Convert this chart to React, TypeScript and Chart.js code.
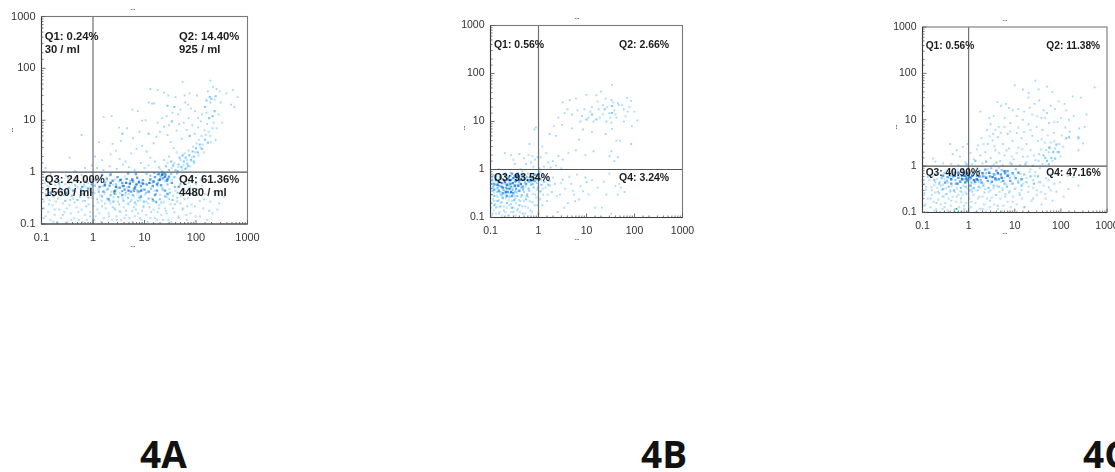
import React, { useEffect, useRef } from "react";
import { Chart, registerables } from "chart.js";

Chart.register(...registerables);

type P = [number, number];

const decadeLabels = [0.1, 1, 10, 100, 1000];

/* ---------- Panel 4A ---------- */
const aLabels = [
  { text: "Q1: 0.24%", x: 0.115, y: 400 },
  { text: "30 / ml", x: 0.115, y: 224 },
  { text: "Q2: 14.40%", x: 46.8, y: 400 },
  { text: "925 / ml", x: 46.8, y: 224 },
  { text: "Q3: 24.00%", x: 0.115, y: 0.705 },
  { text: "1560 / ml", x: 0.115, y: 0.395 },
  { text: "Q4: 61.36%", x: 46.8, y: 0.705 },
  { text: "4480 / ml", x: 46.8, y: 0.395 },
];
const aHaze: P[] = [
  [0.105,0.48],[0.11,0.2],[0.115,0.62],[0.12,0.14],[0.125,0.33],[0.13,0.74],[0.135,0.17],[0.14,0.52],[0.145,0.29],[0.15,0.12],[0.155,0.38],[0.16,0.66],[0.165,0.23],[0.17,0.47],[0.18,0.15],[0.185,0.56],[0.19,0.27],[0.2,0.41],[0.205,0.11],[0.21,0.72],[0.22,0.19],[0.225,0.53],[0.235,0.35],[0.24,0.13],[0.25,0.64],[0.26,0.25],[0.27,0.45],[0.28,0.17],[0.29,0.58],
  [0.31,0.37],[0.32,0.11],[0.33,0.77],[0.35,0.23],[0.36,0.48],[0.37,0.16],[0.39,0.6],[0.41,0.31],[0.43,0.13],[0.45,0.42],[0.46,0.69],[0.48,0.21],[0.5,0.52],[0.53,0.12],[0.55,0.36],[0.57,0.61],[0.6,0.19],[0.62,0.44],[0.64,0.28],[0.66,0.82],[0.69,0.15],[0.71,0.53],[0.75,0.34],[0.77,0.12],[0.79,0.62],[0.83,0.24],[0.86,0.45],[0.89,0.17],[0.93,0.74],[0.96,0.32],[0.99,0.54],
  [1.03,0.22],[1.08,0.4],[1.12,0.14],[1.18,0.63],[1.24,0.26],[1.28,0.47],[1.33,0.16],[1.39,0.36],[1.43,0.78],[1.48,0.28],[1.55,0.54],[1.62,0.13],[1.68,0.39],[1.76,0.2],[1.82,0.66],[1.88,0.31],[1.95,0.48],[2.02,0.16],[2.12,0.86],[2.18,0.25],[2.27,0.42],[2.35,0.12],[2.44,0.57],[2.52,0.33],[2.6,0.2],[2.68,0.72],[2.76,0.38],[2.85,0.14],[2.93,0.49],
  [3.05,0.27],[3.16,0.66],[3.28,0.18],[3.38,0.4],[3.52,0.12],[3.65,0.55],[3.8,0.31],[3.95,0.21],[4.1,0.83],[4.25,0.36],[4.4,0.15],[4.6,0.51],[4.75,0.25],[4.95,0.38],[5.1,0.13],[5.35,0.61],[5.55,0.29],[5.75,0.18],[5.95,0.46],[6.2,0.35],[6.45,0.14],[6.7,0.57],[6.95,0.24],[7.3,0.39],[7.6,0.16],[7.9,0.69],[8.3,0.29],[8.7,0.12],[9.1,0.47],[9.5,0.21],
  [10.2,0.37],[10.7,0.15],[11.3,0.56],[11.8,0.25],[12.4,0.41],[13,0.13],[13.7,0.31],[14.3,0.62],[15,0.19],[15.8,0.44],[16.6,0.27],[17.4,0.12],[18.3,0.54],[19.2,0.23],[20.2,0.37],[21.3,0.15],[22.4,0.5],[23.6,0.26],[24.8,0.66],[26,0.18],[27.5,0.33],[29,0.12],[30.5,0.47],[32,0.24],[34,0.71],[36,0.35],[38,0.17],[40,0.44],[43,0.27],[46,0.13],[49,0.55],[52,0.34],[56,0.2],[60,0.43],[65,0.15],[70,0.32],[76,0.52],[82,0.24],[90,0.38],[98,0.14],[108,0.47],[118,0.28],[125,0.71],[138,0.2],[150,0.38],[165,0.12],[190,0.27],[210,0.16],[260,0.19],
  [45,1.25],[50,1.7],[54,1.1],[57,1.35],[60,2.3],[65,1.2],[67,1.7],[72,2.6],[77,1.3],[83,1.9],[88,3.1],[93,1.5],[97,2.4],[103,3.6],[112,2.1],[115,4.2],[122,3],[128,5],[135,3.4],[142,2.4],[155,5.2],[175,6],[195,3.8],[220,9],[255,7],[275,13],[320,9],[38,1.5],[42,2.4],[34,1.2],[28,1.5],[20,1.15],
];
const aPale: P[] = [
  [1.6,11.5],[2.3,12],[3.2,7.2],[4.6,7],[5.8,16],[7.4,15],[9,9.8],[10.5,10],[12,22],[14,21],[15.5,21],[13,40],[18,38],[24,34],[29,30],[40,28],[55,55],[60,30],[75,33],[105,30],[190,58],[170,36],[215,44],[250,40],[290,36],[190,22],[230,25],[300,22],[390,33],[520,38],[640,28],[480,20],[560,18],
  [160,14],[130,13],[110,11],[95,15],[80,17],[70,20],[62,22],[50,16],[45,13],[35,14],[27,12],[22,11],[30,8],[18,9],[8,6],[6,4.5],[3.5,4],[2.4,3.5],[1.3,3.8],[1.1,2],[1.5,1.7],[2.2,2.2],[2.8,2.6],[3.3,1.8],[4.3,1.6],[5.5,2.3],[7,2.8],[9,3.2],[11,2.5],[13,1.9],[15,3.6],[17,4.8],[20,6],[24,7.5],[28,5.2],[32,3.8],[37,2.9],[42,6.3],[47,8.4],[53,4.4],[58,9],[66,6.5],[72,11],[85,8],[95,5.5],[110,7.2],[125,9.5],[145,6.4],[165,8.5],[190,5],[210,7],[240,4.2],
  [0.6,5.2],[0.35,1.9],[0.12,1.2],[0.45,1.05],[0.7,1.2],[0.95,1.35],[1.2,1.2],[1.6,1.1],[2.1,1.3],[2.9,1.15],[3.8,1.4],[5,1.25],[6.4,1.1],[8.5,1.5],[10,1.2],[12,1.35],[16,1.6],[19,1.25],[24,1.7],[30,2],
  [0.11,0.13],[0.14,0.24],[0.17,0.11],[0.21,0.31],[0.26,0.15],[0.31,0.2],[0.38,0.12],[0.44,0.26],[0.52,0.17],[0.63,0.11],[0.74,0.22],[0.88,0.14],[1.05,0.12],[1.22,0.19],[1.45,0.11],[1.7,0.25],[2.05,0.14],[2.4,0.21],[2.9,0.12],[3.4,0.17],[4.1,0.13],[4.9,0.24],[5.8,0.11],[6.8,0.19],[8.2,0.13],[9.6,0.22],[11.5,0.11],[13.5,0.17],[16,0.13],[19,0.2],[23,0.12],[27,0.16],[33,0.11],[39,0.24],[46,0.14],[55,0.19],[66,0.12],[78,0.16],[95,0.22],[120,0.14],[145,0.3],[180,0.18],[220,0.42],[280,0.25],[350,0.33],[130,0.55],[170,0.7],[105,0.36],[86,0.48],[72,0.62],
  [0.12,0.38],[0.13,0.55],[0.16,0.42],[0.19,0.7],[0.23,0.5],[0.27,0.36],[0.33,0.62],[0.4,0.44],[0.47,0.75],[0.56,0.33],[0.67,0.58],[0.8,0.42],[0.92,0.68],[0.11,0.8],[0.15,0.92],[0.3,0.85],[0.6,0.88],[0.11,0.27],[0.18,0.19],[0.36,0.29],[0.7,0.28],
  [1.2,0.3],[1.5,0.22],[2.1,0.28],[2.7,0.19],[3.2,0.24],[4.4,0.18],[5.3,0.27],[6.2,0.21],[7.5,0.28],[9,0.18],[10.8,0.27],[12.5,0.21],[15,0.28],[18,0.17],[21,0.26],[25,0.2],[30,0.3],[36,0.2],[43,0.32],[50,0.25],[60,0.3],[68,0.22],
];
const aLight: P[] = [
  [40,1.1],[46,1.4],[52,1.25],[58,1.6],[63,1.9],[68,1.45],[74,2.1],[80,1.7],[86,2.5],[92,2],[100,2.9],[108,2.4],[118,3.4],[55,2.1],[48,1.9],[36,1.35],[30,1.1],[26,1.3],[22,1.02],[33,1.6],[44,1.05],[62,1.15],[70,1.3],[90,1.6],[130,2.8],[150,4.2],[170,3.7],
  [200,26],[185,28],[160,24],[240,29],[210,12],[230,15],[180,11],[150,18],[38,18],[28,19],[3.7,5.5],[12,5.5],[34,9.5],[75,5],
  [0.13,0.46],[0.17,0.34],[0.22,0.6],[0.25,0.42],[0.29,0.28],[0.34,0.5],[0.39,0.35],[0.45,0.56],[0.5,0.29],[0.58,0.47],[0.65,0.38],[0.72,0.66],[0.82,0.32],[0.9,0.5],[0.98,0.4],
  [1.1,0.55],[1.3,0.42],[1.5,0.34],[1.7,0.62],[1.9,0.46],[2.2,0.36],[2.5,0.27],[2.8,0.58],[3.1,0.33],[3.5,0.72],[3.9,0.28],[4.3,0.4],[4.8,0.32],[5.3,0.68],[5.9,0.36],[6.5,0.26],[7.2,0.44],[8,0.32],[8.8,0.62],[9.7,0.27],[10.8,0.4],[12,0.31],[13.3,0.48],[14.8,0.28],[16.5,0.38],[18.2,0.62],[20,0.3],[22.5,0.46],[25,0.34],[28,0.58],[31,0.4],[35,0.29],[39,0.52],[44,0.4],[50,0.6],[57,0.46],[64,0.7],[74,0.4],[85,0.82],[100,0.6],
  [11,0.92],[13,0.85],[15.5,0.96],[18,0.9],[20.5,0.82],[23,0.95],[26,0.88],[29,0.78],[33,0.92],[38,0.8],[43,0.94],
];
const aMid: P[] = [
  [1.15,0.7],[1.35,0.52],[1.6,0.42],[1.85,0.75],[2.1,0.55],[2.4,0.68],[2.7,0.44],[3,0.8],[3.3,0.5],[3.7,0.62],[4.1,0.46],[4.5,0.74],[5,0.52],[5.5,0.42],[6,0.66],[6.6,0.52],[7.2,0.78],[7.8,0.42],[8.5,0.54],[9.3,0.7],[10,0.46],[11,0.58],[12,0.42],[13,0.72],[14.5,0.54],[16,0.8],[17.5,0.44],[19,0.7],[21,0.56],[23,0.76],[25,0.44],[27,0.68],[30,0.82],[34,0.62],[19,0.92],[22,0.88],[25,0.93],[46,0.52],
  [0.95,0.58],[0.8,0.48],[0.62,0.52],[0.42,0.44],[0.3,0.4],[0.15,0.4],[4.8,0.95],[6.8,0.92],[2.2,0.9],[1.5,0.88],[28,0.38],[16,0.36],[8.5,0.34],[3.7,0.36],[2,0.3],
];
const aDense: P[] = [
  [2.2,0.62],[2.8,0.52],[3.4,0.7],[3.9,0.54],[4.4,0.62],[4.9,0.44],[5.2,0.6],[5.8,0.72],[6.4,0.48],[7,0.58],[7.8,0.64],[8.6,0.44],[9.4,0.6],[2.6,0.42],[1.7,0.56],[12.5,0.62],[15,0.66],[17.5,0.58],[20,0.72],[22,0.9],[25,0.82],[28,0.72],
];
const aPeak: P[] = [[2.6,0.38],[3.7,0.43],[6.3,0.43],[14.5,0.3],[17,0.26]];

/* ---------- Panel 4B ---------- */
const bLabels = [
  { text: "Q1: 0.56%", x: 0.118, y: 393 },
  { text: "Q2: 2.66%", x: 47.5, y: 393 },
  { text: "Q3: 93.54%", x: 0.118, y: 0.675 },
  { text: "Q4: 3.24%", x: 47.5, y: 0.675 },
];
const bHaze: P[] = [
  [0.103,0.16],[0.105,0.42],[0.107,0.11],[0.11,0.56],[0.112,0.24],[0.115,0.78],[0.118,0.14],[0.12,0.33],[0.123,0.47],[0.125,0.19],[0.128,0.65],[0.13,0.12],[0.135,0.29],[0.138,0.4],[0.14,0.17],[0.145,0.54],[0.148,0.23],[0.15,0.82],[0.155,0.13],[0.158,0.31],[0.16,0.45],[0.165,0.2],[0.17,0.62],[0.175,0.11],[0.18,0.25],[0.185,0.37],[0.19,0.17],[0.195,0.5],[0.2,0.84],[0.205,0.13],[0.21,0.29],[0.215,0.66],[0.22,0.16],[0.23,0.39],[0.235,0.11],[0.24,0.23],[0.245,0.55],[0.25,0.18],[0.26,0.32],[0.265,0.74],[0.27,0.13],[0.28,0.22],[0.29,0.42],[0.3,0.16],[0.31,0.57],[0.32,0.28],[0.33,0.11],[0.34,0.2],[0.35,0.47],[0.36,0.14],[0.37,0.35],[0.38,0.62],[0.39,0.23],[0.41,0.13],[0.43,0.27],[0.44,0.8],[0.46,0.17],[0.48,0.39],[0.5,0.22],[0.52,0.12],[0.54,0.44],[0.56,0.28],[0.58,0.68],[0.6,0.16],[0.63,0.36],[0.66,0.22],[0.69,0.52],[0.72,0.13],[0.76,0.31],[0.79,0.44],[0.83,0.18],[0.87,0.55],[0.9,0.26],[0.93,0.38],[0.97,0.7],[0.99,0.12],
  [1.08,0.24],[1.15,0.68],[1.22,0.4],[1.35,0.72],[1.55,0.3],[1.75,0.46],[2,0.68],[2.4,0.28],[2.9,0.52],[3.4,0.16],[4.4,0.7],[5.2,0.36],[7,0.24],[11,0.3],[15,0.16],[23,0.55],[45,0.3],[52,0.42],
  [12,16],[17,26],[22,14],[27,20],[31,12],[36,25],[40,14],[55,22],[65,13],[78,20],[4,18],[7.5,10],[2.1,8],[1.2,3],[1.1,1.8],[1.45,2.2],[0.75,1.9],[0.3,1.6],
];
const bPale: P[] = [
  [34,58],[20,42],[16,35],[10,36],[6,30],[4.5,28],[3.2,25],[25,30],[33,28],[45,24],[70,31],[85,27],[115,10.5],[100,16],[72,16],[60,18],[47,22],[38,17],[30,15],[22,22],[18,18],[13,20],[9,18],[6.5,17],[5,14],[3.5,15],[2.6,12],[8,13],[11,12],[14,10],[19,12],[26,10],[33,9.5],[42,12],[60,10],[88,8],[5,7.2],[8.5,6.8],[13,6],[25,5.5],[34,7],[2.3,5],[1.7,5.5],[3.1,8.5],[0.88,7.5],[0.82,6.8],[0.65,3.4],[7,4.2],[42,4],[50,4],[85,3.4],[33,2.4],[45,1.8],[38,1.5],[30,1.9],[14,2.4],[9.5,2],[6,2.5],
  [4.2,2.2],[3.2,1.6],[2.6,1.9],[2,1.5],[1.6,1.4],[1.3,1.15],[1.8,1.1],[2.3,1.2],[3,1.05],[0.2,2.2],[0.27,2],[0.4,2.1],[0.5,1.7],[0.62,2],[0.7,1.4],[0.85,1.6],[0.95,1.8],[0.32,1.3],[0.55,1.3],[0.42,1.02],[0.15,1.02],[0.78,1.15],[1.05,1.05],
  [1.2,0.18],[1.25,0.3],[1.4,0.42],[1.5,0.22],[1.7,0.58],[1.9,0.34],[2.2,0.5],[2.5,0.13],[2.8,0.3],[3.2,0.62],[3.6,0.4],[4.1,0.2],[4.8,0.5],[5.5,0.3],[5.8,0.22],[6.3,0.78],[7.5,0.45],[8.5,0.35],[9.5,0.68],[10,0.55],[13,0.6],[17,0.42],[21,0.16],[26,0.3],[33,0.12],[40,0.45],[48,0.5],[62,0.34],[30,0.82],
  [0.11,0.12],[0.13,0.16],[0.12,0.22],[0.15,0.12],[0.17,0.21],[0.19,0.14],[0.21,0.26],[0.24,0.11],[0.27,0.19],[0.3,0.13],[0.33,0.25],[0.37,0.15],[0.42,0.22],[0.47,0.12],[0.53,0.17],[0.6,0.27],[0.68,0.14],[0.75,0.21],[0.85,0.3],[0.95,0.18],[0.11,0.3],[0.14,0.27],[0.16,0.34],[0.2,0.32],[0.35,0.33],[0.5,0.34],[0.65,0.36],[0.8,0.42],[0.92,0.52],[0.72,0.75],[0.9,0.78],[0.6,0.82],[0.46,0.92],[0.26,0.85],
];
const bLight: P[] = [
  [24,18],[34,21],[13,14],[10,11],[16,11],[34,15],[1.1,0.62],[1.15,0.48],[1.3,0.56],[1.45,0.66],[1.6,0.48],[1.2,0.78],[1.05,0.9],[1.1,0.35],
  [0.12,0.18],[0.14,0.22],[0.16,0.17],[0.18,0.26],[0.22,0.2],[0.25,0.27],[0.28,0.16],[0.31,0.23],[0.36,0.28],[0.4,0.18],[0.45,0.29],[0.55,0.24],[0.62,0.4],[0.7,0.48],[0.78,0.58],[0.86,0.66],[0.94,0.62],[0.12,0.28],[0.14,0.42],[0.11,0.36],[0.17,0.29],[0.13,0.62],[0.11,0.72],[0.58,0.3],[0.48,0.38],[0.98,0.42],[0.4,0.72],[0.5,0.75],[0.65,0.68],
  [0.105,0.5],[0.11,0.62],[0.115,0.44],[0.14,0.34],[0.15,0.46],[0.16,0.74],[0.19,0.37],[0.24,0.46],[0.27,0.62],[0.29,0.38],[0.33,0.35],[0.35,0.64],[0.39,0.54],[0.44,0.42],[0.52,0.54],[0.57,0.7],[0.62,0.55],[0.7,0.62],[0.76,0.5],[0.84,0.58],
];
const bMid: P[] = [
  [0.12,0.38],[0.12,0.5],[0.13,0.72],[0.15,0.36],[0.15,0.55],[0.16,0.68],[0.17,0.44],[0.18,0.32],[0.19,0.6],[0.2,0.76],[0.21,0.42],[0.23,0.34],[0.24,0.7],[0.26,0.5],[0.28,0.82],[0.3,0.32],[0.32,0.72],[0.34,0.4],[0.37,0.82],[0.4,0.36],[0.43,0.62],[0.47,0.44],[0.5,0.62],[0.55,0.5],[0.6,0.6],[0.68,0.58],[0.75,0.68],[0.82,0.78],[0.95,0.75],[0.22,0.28],[0.28,0.28],
];
const bDense: P[] = [
  [0.17,0.52],[0.18,0.42],[0.2,0.55],[0.21,0.34],[0.22,0.48],[0.23,0.62],[0.25,0.4],[0.26,0.6],[0.27,0.34],[0.29,0.52],[0.3,0.66],[0.32,0.46],[0.34,0.58],[0.36,0.74],[0.38,0.46],[0.4,0.6],[0.43,0.5],[0.46,0.72],[0.14,0.48],[0.13,0.6],
];
const bPeak: P[] = [[0.25,0.5],[0.33,0.55],[0.22,0.4],[0.27,0.44]];

/* ---------- Panel 4C ---------- */
const cLabels = [
  { text: "Q1: 0.56%", x: 0.117, y: 395 },
  { text: "Q2: 11.38%", x: 48.4, y: 395 },
  { text: "Q3: 40.90%", x: 0.117, y: 0.7 },
  { text: "Q4: 47.16%", x: 48.4, y: 0.7 },
];
const cHaze: P[] = [
  [0.105,0.24],[0.11,0.42],[0.115,0.15],[0.12,0.31],[0.13,0.2],[0.14,0.5],[0.15,0.13],[0.155,0.35],[0.16,0.24],[0.17,0.62],[0.175,0.17],[0.18,0.39],[0.19,0.27],[0.2,0.12],[0.205,0.53],[0.21,0.34],[0.22,0.19],[0.225,0.72],[0.23,0.26],[0.24,0.46],[0.25,0.15],[0.26,0.31],[0.265,0.6],[0.27,0.12],[0.28,0.4],[0.29,0.22],[0.3,0.52],[0.31,0.16],[0.32,0.33],[0.33,0.8],[0.34,0.25],[0.35,0.11],[0.36,0.44],[0.37,0.2],[0.39,0.56],[0.4,0.3],[0.41,0.14],[0.43,0.37],[0.45,0.22],[0.46,0.68],[0.48,0.11],[0.5,0.28],[0.52,0.42],[0.54,0.17],[0.56,0.33],[0.58,0.84],[0.6,0.24],[0.62,0.13],[0.64,0.48],[0.66,0.29],[0.69,0.17],[0.71,0.56],[0.74,0.24],[0.77,0.38],[0.8,0.12],[0.83,0.7],[0.86,0.27],[0.89,0.16],[0.92,0.46],[0.95,0.33],[0.98,0.9],
  [1.03,0.2],[1.08,0.52],[1.13,0.13],[1.18,0.32],[1.22,0.66],[1.28,0.24],[1.34,0.42],[1.4,0.16],[1.47,0.3],[1.55,0.9],[1.6,0.2],[1.68,0.46],[1.75,0.12],[1.82,0.34],[1.9,0.6],[2,0.22],[2.08,0.42],[2.18,0.15],[2.28,0.32],[2.38,0.56],[2.5,0.2],[2.62,0.86],[2.75,0.28],[2.88,0.13],[3,0.42],[3.15,0.21],[3.3,0.68],[3.45,0.33],[3.6,0.15],[3.75,0.5],[3.9,0.24],[4.1,0.38],[4.3,0.12],[4.5,0.92],[4.7,0.28],[4.9,0.2],[5.1,0.46],[5.4,0.33],[5.7,0.14],[6,0.56],[6.3,0.25],[6.6,0.4],[7,0.17],[7.4,0.66],[7.8,0.29],[8.2,0.13],[8.6,0.42],[9.2,0.22],[9.8,0.62],[10.4,0.33],[11,0.15],[11.8,0.48],[12.6,0.26],[13.4,0.68],[14.4,0.2],[15.4,0.42],[16.5,0.13],[18,0.55],[19.5,0.28],[21,0.75],[23,0.18],[25,0.34],[27,0.62],[30,0.24],[33,0.45],[37,0.28],[42,0.38],[47,0.2],[54,0.5],[60,0.3],[72,0.42],
  [20,30],[33,45],[24,13],[31,12],[45,11],[72,9],[130,16],[6,7],[8,5.6],[12,6.8],[16,5.4],[22,6],[38,3.8],[45,3.2],[52,4.6],[58,2.5],[66,1.3],[72,3.4],[84,2],[92,3],[98,1.6],[105,4.6],[112,2.6],[1.6,2.8],[2.1,3],[2.9,4.4],[3.8,6],[5,5.2],[3.6,2.7],[4.6,1.9],[6.6,2.2],[8.6,1.6],[11,1.9],[14.5,2.3],[19,1.6],[26,1.7],[33,1.3],[37,2.3],
];
const cPale: P[] = [
  [10,55],[28,70],[50,52],[65,40],[15,45],[20,38],[4.2,24],[5,20],[6.5,22],[7.5,18],[9,16],[12,17],[16,15],[21,18],[27,22],[34,26],[42,16],[50,14],[60,20],[75,17],[90,25],[120,22],[180,32],[270,30],[540,50],[360,13],[190,12],[150,10],[100,11],[85,9],[55,8.5],[38,11],[30,7],[20,8],[15,10],[11,12],[8,8.5],[6,11],[4.5,7],[3.5,12],[2.8,11],[1.8,15],[3,8],[3.4,5],[2.5,6],[1.9,4],[2.6,3],[3.3,3.6],[4.3,4.2],[5.5,3],[7,5],[9,3.5],[11,5.2],[14,4],[18,3],[24,4.5],[32,3.5],[40,6],[70,5.2],[125,6.8],[155,5.5],[240,4.3],[250,6.5],[330,7],[300,3.1],[240,2.2],[60,3.2],[48,2.2],
  [0.4,3],[0.55,2.2],[0.75,2.6],[0.95,3],[0.65,1.6],[0.45,1.8],[1.1,1.9],[1.3,1.4],[1.5,2.3],[1.8,1.7],[2.3,2],[3,1.5],[3.8,2.2],[4.8,1.3],[6,1.7],[7.5,2.4],[9.5,1.4],[12,2.5],[15,1.6],[18,1.2],[22,2.2],[28,1.35],[34,1.8],[40,1.1],[55,2],[75,2.4],[0.17,1.45],[0.19,1.25],[0.28,1.15],[0.42,1.12],[0.6,1.05],[0.85,1.2],[1.2,1.1],[2,1.15],[3.5,1.08],[5.5,1.05],[8,1.18],[13,1.05],[25,1.03],
  [0.11,0.14],[0.13,0.102],[0.15,0.2],[0.18,0.11],[0.2,0.16],[0.24,0.104],[0.27,0.22],[0.3,0.13],[0.36,0.102],[0.42,0.18],[0.5,0.12],[0.58,0.102],[0.68,0.2],[0.8,0.14],[0.95,0.104],[1.15,0.17],[1.4,0.102],[1.7,0.22],[2,0.12],[2.4,0.104],[2.9,0.18],[3.5,0.102],[4.3,0.14],[5.2,0.104],[6.2,0.22],[7.5,0.102],[9,0.17],[11,0.104],[13,0.24],[16,0.13],[20,0.102],[25,0.2],[30,0.3],[38,0.15],[46,0.25],[55,0.35],[66,0.18],[80,0.28],[95,0.45],[115,0.22],[145,0.32],[185,0.58],[240,0.38],[140,0.62],[100,0.78],[65,0.7],[48,0.55],[36,0.45],
  [0.11,0.26],[0.12,0.36],[0.13,0.58],[0.16,0.3],[0.19,0.45],[0.22,0.28],[0.25,0.38],[0.32,0.25],[0.4,0.28],[0.55,0.22],[0.7,0.28],[0.9,0.25],[1.2,0.28],[1.6,0.3],[2.2,0.27],[3,0.3],[4,0.24],[5.5,0.3],[7.5,0.27],[10,0.32],[14,0.3],[20,0.36],[25,0.5],[28,0.75],[35,0.9],[22,0.85],
];
const cLight: P[] = [
  [42,1.7],[50,1.3],[56,2.5],[62,1.5],[68,2],[75,1.45],[80,2.9],[90,2],[55,1.1],[46,1.5],[130,4],[150,4.2],[240,4],[17,1.1],[8.5,1.1],[4,1.2],[2.4,1.25],[1.4,1.3],[0.9,1.1],
  [0.18,0.5],[0.2,0.66],[0.23,0.42],[0.26,0.55],[0.28,0.32],[0.3,0.7],[0.34,0.48],[0.37,0.36],[0.4,0.62],[0.44,0.78],[0.48,0.3],[0.52,0.5],[0.58,0.42],[0.62,0.66],[0.68,0.34],[0.74,0.82],[0.8,0.52],[0.86,0.36],[0.92,0.7],[1.05,0.3],[1.15,0.44],[1.3,0.34],[1.45,0.8],[1.65,0.36],[1.85,0.5],[2.1,0.38],[2.4,0.7],[2.7,0.34],[3.1,0.9],[3.5,0.38],[4,0.5],[4.5,0.36],[5.2,0.82],[6,0.42],[6.8,0.36],[7.8,0.56],[9,0.42],[10.5,0.86],[12,0.44],[14,0.38],[16,0.66],[18,0.45],[22,0.6],[26,0.42],[32,0.6],
];
const cMid: P[] = [
  [0.28,0.62],[0.31,0.44],[0.35,0.58],[0.38,0.72],[0.42,0.42],[0.46,0.6],[0.5,0.72],[0.55,0.42],[0.6,0.56],[0.66,0.46],[0.72,0.62],[0.78,0.72],[0.84,0.44],[0.9,0.58],[1.02,0.68],[1.12,0.55],[1.25,0.72],[1.38,0.46],[1.52,0.62],[1.7,0.78],[1.9,0.44],[2.1,0.6],[2.3,0.84],[2.6,0.48],[2.9,0.6],[3.2,0.46],[3.6,0.66],[4,0.8],[4.5,0.52],[5,0.66],[5.6,0.48],[6.2,0.7],[7,0.78],[8,0.48],[9,0.7],[10.5,0.55],[12,0.72],[14,0.52],[1.1,0.38],[1.6,0.5],[0.95,0.48],
];
const cDense: P[] = [
  [0.42,0.52],[0.5,0.62],[0.6,0.72],[0.72,0.52],[0.82,0.62],[0.95,0.72],[1.05,0.58],[1.2,0.62],[1.3,0.5],[1.5,0.52],[1.7,0.6],[2,0.7],[2.4,0.56],[2.8,0.72],[3.3,0.58],[3.8,0.54],[4.3,0.7],[5.2,0.56],[6,0.78],[7,0.62],[0.9,0.52],
];
const cPeak: P[] = [[0.58,0.42],[0.85,0.45],[1.02,0.62],[0.55,0.12],[0.7,0.102],[0.11,0.102]];

/* ---------- Shared drawing ---------- */
type Panel = {
  left: number; width: number; height: number;
  plotLeft: number; plotRight: number; plotTop: number; plotBottom: number;
  haze: P[]; pale: P[]; light: P[]; mid: P[]; dense: P[]; peak: P[];
  labels: { text: string; x: number; y: number }[];
  statFont: number; tickFont: number;
  titleX: number; titleY: number; sideX: number; sideY: number; footX: number; footY: number;
};

const panels: Panel[] = [
  { left: 0, width: 280, height: 250, plotLeft: 41.5, plotRight: 247.5, plotTop: 16.5, plotBottom: 224,
    haze: aHaze, pale: aPale, light: aLight, mid: aMid, dense: aDense, peak: aPeak, labels: aLabels, statFont: 11.3, tickFont: 11,
    titleX: 133, titleY: 8, sideX: 11, sideY: 130, footX: 133, footY: 245 },
  { left: 450, width: 260, height: 245, plotLeft: 40.5, plotRight: 232.5, plotTop: 25.5, plotBottom: 217.5,
    haze: bHaze, pale: bPale, light: bLight, mid: bMid, dense: bDense, peak: bPeak, labels: bLabels, statFont: 10.5, tickFont: 10.5,
    titleX: 127, titleY: 17, sideX: 13, sideY: 128, footX: 127, footY: 238 },
  { left: 885, width: 250, height: 245, plotLeft: 37.5, plotRight: 222, plotTop: 27, plotBottom: 212.5,
    haze: cHaze, pale: cPale, light: cLight, mid: cMid, dense: cDense, peak: cPeak, labels: cLabels, statFont: 10.2, tickFont: 10.5,
    titleX: 120, titleY: 19, sideX: 10, sideY: 127, footX: 120, footY: 232 },
];

const toPts = (rows: P[]) => rows.map(([x, y]) => ({ x, y }));

const decorPlugin = {
  id: "flowDecor",
  afterDatasetsDraw(chart: any, _a: any, opts: any) {
    const { ctx, chartArea: ca, scales } = chart;
    const sx = scales.x, sy = scales.y;
    const panel: Panel = opts.panel;
    ctx.save();
    ctx.lineWidth = 1.2;
    ctx.strokeStyle = "#6f7378";
    ctx.beginPath();
    ctx.moveTo(sx.getPixelForValue(1), ca.top);
    ctx.lineTo(sx.getPixelForValue(1), ca.bottom);
    ctx.stroke();
    ctx.strokeStyle = "#50555a";
    ctx.beginPath();
    ctx.moveTo(ca.left, sy.getPixelForValue(1));
    ctx.lineTo(ca.right, sy.getPixelForValue(1));
    ctx.stroke();
    ctx.lineWidth = 1.1;
    ctx.strokeStyle = "#77797c";
    ctx.strokeRect(ca.left, ca.top, ca.right - ca.left, ca.bottom - ca.top);
    ctx.strokeStyle = "#3c3c3c";
    ctx.beginPath();
    ctx.moveTo(ca.left, ca.top);
    ctx.lineTo(ca.left, ca.bottom);
    ctx.lineTo(ca.right, ca.bottom);
    ctx.stroke();
    ctx.strokeStyle = "#555";
    ctx.lineWidth = 0.8;
    ctx.beginPath();
    for (const t of sx.ticks) {
      const p = sx.getPixelForValue(t.value);
      const len = decadeLabels.includes(t.value) ? 4 : 2;
      ctx.moveTo(p, ca.bottom);
      ctx.lineTo(p, ca.bottom - len);
    }
    for (const t of sy.ticks) {
      const p = sy.getPixelForValue(t.value);
      const len = decadeLabels.includes(t.value) ? 4 : 2;
      ctx.moveTo(ca.left, p);
      ctx.lineTo(ca.left + len, p);
    }
    ctx.stroke();
    ctx.fillStyle = "#1c1c1c";
    ctx.font = `bold ${panel.statFont}px 'Liberation Sans'`;
    ctx.textAlign = "left";
    ctx.textBaseline = "middle";
    for (const l of panel.labels) {
      ctx.fillText(l.text, sx.getPixelForValue(l.x), sy.getPixelForValue(l.y));
    }
    ctx.font = "bold 6px 'Liberation Sans'";
    ctx.textAlign = "center";
    ctx.fillStyle = "#333";
    ctx.fillText("...", panel.titleX, panel.titleY);
    ctx.fillText("...", panel.footX, panel.footY);
    ctx.save();
    ctx.translate(panel.sideX, panel.sideY);
    ctx.rotate(-Math.PI / 2);
    ctx.fillStyle = "#223";
    ctx.fillText("...", 0, 0);
    ctx.restore();
    ctx.restore();
  },
};

function PanelChart({ panel }: { panel: Panel }) {
  const ref = useRef<HTMLCanvasElement>(null);
  useEffect(() => {
    const mk = (data: P[], color: string, radius: number) => ({
      data: toPts(data),
      backgroundColor: color,
      borderWidth: 0,
      pointStyle: "rect",
      pointRadius: radius,
    });
    const tick = (v: any) => (decadeLabels.includes(Number(v)) ? String(v) : "");
    const font = { family: "'Liberation Sans'", size: panel.tickFont };
    const chart = new Chart(ref.current!, {
      type: "scatter",
      data: {
        datasets: [
          mk(panel.peak, "#3fae8f", 1.2),
          mk(panel.dense, "rgba(25,110,230,0.85)", 1.7),
          mk(panel.mid, "rgba(50,150,240,0.8)", 1.7),
          mk(panel.light, "rgba(90,185,250,0.75)", 1.5),
          mk(panel.pale, "rgba(125,198,250,0.7)", 1.3),
          mk(panel.haze, "rgba(150,212,252,0.6)", 1.6),
        ],
      },
      options: {
        animation: false,
        responsive: false,
        devicePixelRatio: 1,
        layout: {
          autoPadding: false,
          padding: {
            left: 0,
            top: panel.plotTop,
            right: panel.width - panel.plotRight,
            bottom: 0,
          },
        },
        plugins: {
          legend: { display: false },
          tooltip: { enabled: false },
          flowDecor: { panel },
        } as any,
        scales: {
          x: {
            type: "logarithmic",
            min: 0.1,
            max: 1000,
            grid: { display: false, drawTicks: false },
            border: { display: false },
            afterFit: (s: any) => { s.height = panel.height - panel.plotBottom; },
            ticks: { autoSkip: false, maxRotation: 0, padding: 7, color: "#333", font, callback: tick },
          },
          y: {
            type: "logarithmic",
            min: 0.1,
            max: 1000,
            grid: { display: false, drawTicks: false },
            border: { display: false },
            afterFit: (s: any) => { s.width = panel.plotLeft; },
            ticks: { autoSkip: false, padding: 6, color: "#333", font, callback: tick },
          },
        },
      } as any,
      plugins: [decorPlugin],
    });
    return () => chart.destroy();
  }, [panel]);
  return (
    <canvas
      ref={ref}
      width={panel.width}
      height={panel.height}
      style={{
        position: "absolute",
        left: panel.left,
        top: 0,
        width: panel.width,
        height: panel.height,
        filter: "blur(0.45px)",
      }}
    />
  );
}

const captions = [
  { text: "4A", x: 140 },
  { text: "4B", x: 641 },
  { text: "4C", x: 1083 },
];

export default function App() {
  return (
    <div style={{ position: "fixed", left: 0, top: 0, width: 1115, height: 472, overflow: "hidden", background: "#fff" }}>
      {panels.map((p, i) => <PanelChart key={i} panel={p} />)}
      {captions.map((c) => (
        <div
          key={c.text}
          style={{
            position: "absolute",
            left: c.x,
            top: 431.5,
            fontFamily: "'Open Sans'",
            fontWeight: 700,
            fontSize: 37,
            lineHeight: "44px",
            color: "#111",
          }}
        >
          {c.text}
        </div>
      ))}
    </div>
  );
}
